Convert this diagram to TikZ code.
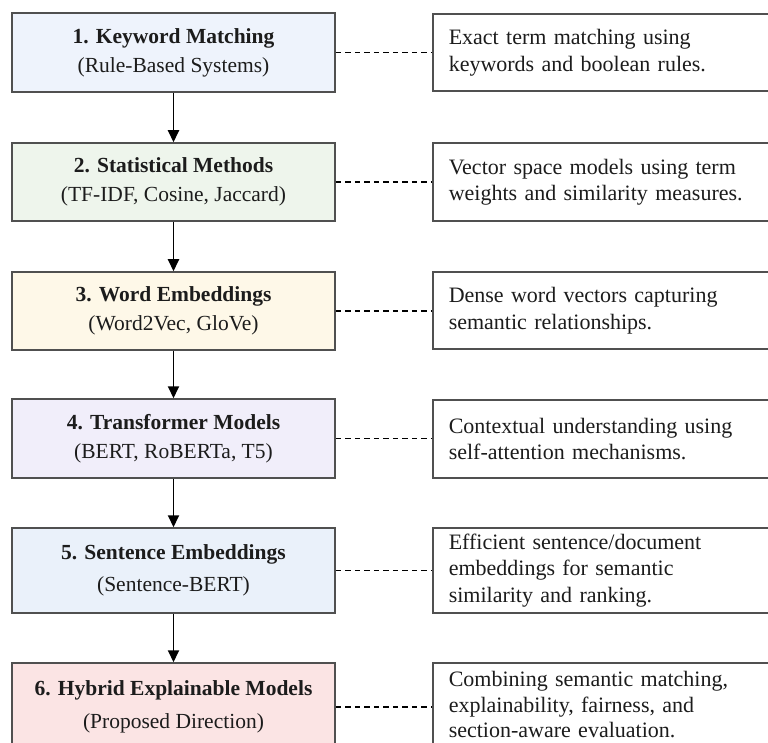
\documentclass[tikz,border=0pt]{standalone}
\usepackage{fontspec}
\setmainfont{Liberation Serif}
\usetikzlibrary{arrows.meta}

\definecolor{edge}{HTML}{505050}
\definecolor{ink}{HTML}{1C1C1C}
\definecolor{fillA}{HTML}{EEF3FC}
\definecolor{fillB}{HTML}{EEF5EC}
\definecolor{fillC}{HTML}{FEF8E8}
\definecolor{fillD}{HTML}{F1EEFA}
\definecolor{fillE}{HTML}{EAF1FA}
\definecolor{fillF}{HTML}{FBE4E4}

\tikzset{
  stage/.style={draw=edge, line width=1.5pt, minimum width=323pt,
    inner sep=0pt, align=center, text=ink,
    font=\fontsize{21.5}{29}\selectfont},
  note/.style={draw=edge, line width=1.5pt, fill=white, anchor=west,
    text width=330pt, inner xsep=16pt, inner ysep=0pt, align=left,
    text=ink, font=\fontsize{22}{26.5}\selectfont},
  flow/.style={draw=black, line width=1.9pt,
    -{Triangle[width=11pt,length=12pt]}},
  link/.style={draw=black, line width=1.8pt, dash pattern=on 5.5pt off 4pt}
}

\begin{document}
\begin{tikzpicture}[x=1pt, y=-1pt]
  \useasboundingbox (0,0) rectangle (768,743);
  \fill[white] (0,0) rectangle (768,743);
  \clip (0,0) rectangle (768,743);

  % stages of the evolution
  \node[stage, fill=fillA, minimum height=79pt] (s1) at (173.5,52.5)
    {\textbf{1. Keyword Matching}\\(Rule-Based Systems)};
  \node[stage, fill=fillB, minimum height=78pt] (s2) at (173.5,182)
    {\textbf{2. Statistical Methods}\\(TF-IDF, Cosine, Jaccard)};
  \node[stage, fill=fillC, minimum height=78pt] (s3) at (173.5,311)
    {\textbf{3. Word Embeddings}\\(Word2Vec, GloVe)};
  \node[stage, fill=fillD, minimum height=79pt] (s4) at (173.5,438.5)
    {\textbf{4. Transformer Models}\\(BERT, RoBERTa, T5)};
  \node[stage, fill=fillE, minimum height=85pt] (s5) at (173.5,570.5)
    {\textbf{5. Sentence Embeddings}\\[3pt](Sentence-BERT)};
  \node[stage, fill=fillF, minimum height=88pt] (s6) at (173.5,707)
    {\textbf{6. Hybrid Explainable Models}\\[4pt](Proposed Direction)};

  % descriptions
  \node[note, minimum height=77pt] (d1) at (432,52.5)
    {Exact term matching using\\keywords and boolean rules.};
  \node[note, minimum height=78pt] (d2) at (432,182)
    {Vector space models using term\\weights and similarity measures.};
  \node[note, minimum height=77pt] (d3) at (432,310.5)
    {Dense word vectors capturing\\semantic relationships.};
  \node[note, minimum height=78pt] (d4) at (432,439)
    {Contextual understanding using\\self-attention mechanisms.};
  \node[note, minimum height=85pt] (d5) at (432,570.5)
    {Efficient sentence/document\\embeddings for semantic\\similarity and ranking.};
  \node[note, minimum height=84pt, font=\fontsize{22}{25.5}\selectfont]
    (d6) at (432,705)
    {Combining semantic matching,\\explainability, fairness, and\\section-aware evaluation.};

  % progression arrows
  \draw[flow] (s1) -- (s2);
  \draw[flow] (s2) -- (s3);
  \draw[flow] (s3) -- (s4);
  \draw[flow] (s4) -- (s5);
  \draw[flow] (s5) -- (s6);

  % dashed links to descriptions, kept horizontal
  \foreach \i in {1,...,6} {
    \draw[link] (s\i.east) -- (s\i.east -| d\i.west);
  }
\end{tikzpicture}
\end{document}
